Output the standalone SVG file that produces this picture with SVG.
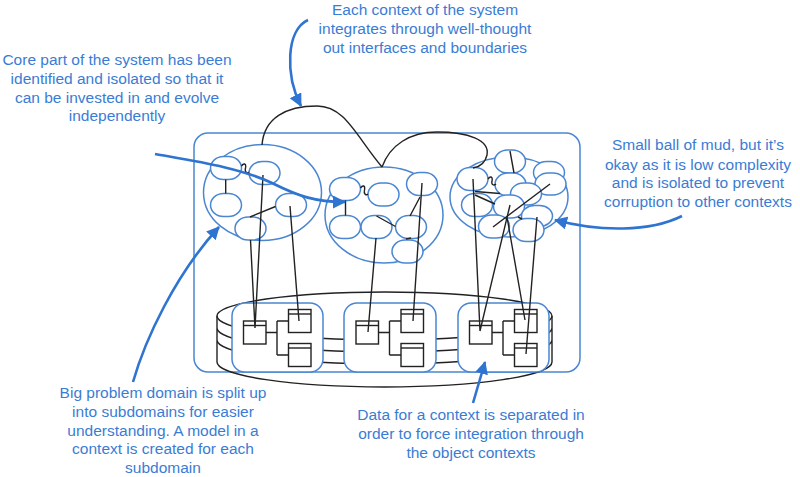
<svg xmlns="http://www.w3.org/2000/svg" width="800" height="477" viewBox="0 0 800 477">
<style>
.b{fill:none;stroke:#4a86d2;stroke-width:1.5}
.o{fill:#fff;stroke:#4a86d2;stroke-width:1.5}
.k{fill:none;stroke:#222;stroke-width:1.4}
.tb{fill:#fff;stroke:#222;stroke-width:1.4}
.a{fill:none;stroke:#2f74d0;stroke-width:2.6}
.t{font-family:'Liberation Sans',Arial,sans-serif;font-size:15.5px;fill:#3a7cd5;text-anchor:middle}
</style>
<defs>
<marker id="ah" markerUnits="userSpaceOnUse" markerWidth="14" markerHeight="14" refX="12" refY="6.5" orient="auto">
<path d="M0,0 L13,6.5 L0,13 z" fill="#2f74d0"/>
</marker>
</defs>
<rect width="800" height="477" fill="#fff"/>

<g id="system-boundary">
<rect class="b" x="194" y="133" width="386" height="239" rx="14"/>
</g>

<g id="database">
<ellipse class="k" cx="384.5" cy="316" rx="167.5" ry="24"/>
<path class="k" d="M217,328 A167.5,24 0 0 0 552,328 M217,340 A167.5,24 0 0 0 552,340 M217,362 A167.5,25 0 0 0 552,362 M217,316 V362 M552,316 V362"/>
</g>

<g id="data-context-1">
<rect class="o" x="232" y="303" width="91" height="69" rx="13"/>
<rect class="tb" x="243.5" y="321" width="22.5" height="23"/><path class="k" d="M243.5,325.5 H266"/>
<rect class="tb" x="288.5" y="309.5" width="22.5" height="23"/><path class="k" d="M288.5,314 H311"/>
<rect class="tb" x="288.5" y="343.5" width="22.5" height="23"/><path class="k" d="M288.5,348 H311"/>
<path class="k" d="M266,332.5 H277 M277,321 V355 M277,321 H288.5 M277,355 H288.5"/>
</g>
<g id="data-context-2">
<rect class="o" x="344" y="303" width="92" height="69" rx="13"/>
<rect class="tb" x="356" y="321" width="22.5" height="23"/><path class="k" d="M356,325.5 H378.5"/>
<rect class="tb" x="401" y="309.5" width="22.5" height="23"/><path class="k" d="M401,314 H423.5"/>
<rect class="tb" x="401" y="343.5" width="22.5" height="23"/><path class="k" d="M401,348 H423.5"/>
<path class="k" d="M378.5,332.5 H389.5 M389.5,321 V355 M389.5,321 H401 M389.5,355 H401"/>
</g>
<g id="data-context-3">
<rect class="o" x="458" y="303" width="91" height="69" rx="13"/>
<rect class="tb" x="469.5" y="321" width="22.5" height="23"/><path class="k" d="M469.5,325.5 H492"/>
<rect class="tb" x="514.5" y="309.5" width="22.5" height="23"/><path class="k" d="M514.5,314 H537"/>
<rect class="tb" x="514.5" y="343.5" width="22.5" height="23"/><path class="k" d="M514.5,348 H537"/>
<path class="k" d="M492,332.5 H503 M503,321 V355 M503,321 H514.5 M503,355 H514.5"/>
</g>

<g id="context-core">
<ellipse class="b" cx="262.5" cy="192.5" rx="59" ry="48"/>
<rect class="o" x="210.5" y="156.5" width="31" height="23" rx="13" ry="11.5"/>
<rect class="o" x="249" y="161.5" width="31" height="23" rx="13" ry="11.5"/>
<rect class="o" x="210.5" y="193.5" width="31" height="23" rx="13" ry="11.5"/>
<rect class="o" x="275.5" y="193.5" width="31" height="23" rx="13" ry="11.5"/>
<rect class="o" x="235" y="217" width="31" height="23" rx="13" ry="11.5"/>
<path class="k" d="M225.7,179.5 V193.5 M241.5,166 C243.5,163 246.5,163 245.5,168 C244.5,172 247,174 249,172 M250,217 L275.5,206.5"/>
</g>

<g id="context-middle">
<ellipse class="b" cx="384" cy="215" rx="59" ry="48"/>
<rect class="o" x="329.5" y="177.5" width="31" height="23" rx="13" ry="11.5"/>
<rect class="o" x="368" y="183" width="31" height="23" rx="13" ry="11.5"/>
<rect class="o" x="406.5" y="172.5" width="31" height="23" rx="13" ry="11.5"/>
<rect class="o" x="329.5" y="215.5" width="31" height="23" rx="13" ry="11.5"/>
<rect class="o" x="361" y="215.5" width="31" height="23" rx="13" ry="11.5"/>
<rect class="o" x="395.5" y="215.5" width="31" height="23" rx="13" ry="11.5"/>
<rect class="o" x="392" y="240" width="31" height="23" rx="13" ry="11.5"/>
<path class="k" d="M345.5,200.5 V215.5 M360.5,188 C362.5,185 365.5,185 364.5,190 C363.5,194 366,196 368,194 M376.5,216 L395.5,226.5 M420,197 L410,216 M406,239 L411,238"/>
</g>

<g id="context-mud">
<ellipse class="b" cx="509" cy="197" rx="59" ry="40"/>
<rect class="o" x="494.5" y="150" width="31" height="23" rx="13" ry="11.5"/>
<rect class="o" x="533.5" y="161.5" width="31" height="22" rx="13" ry="11"/>
<rect class="o" x="535" y="173" width="31" height="22" rx="13" ry="11"/>
<rect class="o" x="457" y="167.5" width="31" height="23" rx="13" ry="11.5"/>
<rect class="o" x="495" y="173" width="31" height="23" rx="13" ry="11.5"/>
<rect class="o" x="510.5" y="183" width="31" height="22" rx="13" ry="11"/>
<rect class="o" x="461.5" y="193.5" width="31" height="23" rx="13" ry="11.5"/>
<rect class="o" x="493.5" y="195" width="31" height="23" rx="13" ry="11.5"/>
<rect class="o" x="521.5" y="205.5" width="31" height="21" rx="13" ry="10.5"/>
<rect class="o" x="478.5" y="215" width="31" height="23" rx="13" ry="11.5"/>
<rect class="o" x="513" y="218.5" width="31" height="23" rx="13" ry="11.5"/>
<path class="k" d="M510,151 L514,173 M488,179 C490,176 493,176 492,181 C491,185 494,186 496,184 M475,191.5 L500,193.5 M475,195 L495,204 M493,227 L550,184 M518,217 L522,219"/>
</g>

<g id="connectors">
<path class="k" d="M262,145 C264,118 286,106 317,106 C345,106 356,136 382,167"/>
<path class="k" d="M382,167 C390,145 410,132 437,132 C468,132 490,140 487,155 C485,164 479,167 473,168"/>
<path class="k" d="M263,175 L255,328 M250.5,240 L255,328 M290,206 L299,321"/>
<path class="k" d="M376,238 L368,332 M422,183 L413,321"/>
<path class="k" d="M473,179 L480,331 M510,205 L480,331 M507,217 L525,320 M537,217 L526,354"/>
</g>

<g id="note-interfaces">
<text class="t" x="425" y="15">Each context of the system</text>
<text class="t" x="425" y="34">integrates through well-thought</text>
<text class="t" x="425" y="53">out interfaces and boundaries</text>
<path class="a" marker-end="url(#ah)" d="M308,20 C286,30 285,75 301,106"/>
</g>

<g id="note-core">
<text class="t" x="117" y="65">Core part of the system has been</text>
<text class="t" x="117" y="84">identified and isolated so that it</text>
<text class="t" x="117" y="103">can be invested in and evolve</text>
<text class="t" x="117" y="121">independently</text>
<path class="a" marker-end="url(#ah)" d="M155,154 C200,162 240,168 272,183 C298,196 315,202 345,202"/>
</g>

<g id="note-mud">
<text class="t" x="698" y="150">Small ball of mud, but it’s</text>
<text class="t" x="698" y="170">okay as it is low complexity</text>
<text class="t" x="698" y="188">and is isolated to prevent</text>
<text class="t" x="698" y="207">corruption to other contexts</text>
<path class="a" marker-end="url(#ah)" d="M682,216 C650,232 600,232 555,220"/>
</g>

<g id="note-subdomains">
<text class="t" x="163" y="398">Big problem domain is split up</text>
<text class="t" x="163" y="417">into subdomains for easier</text>
<text class="t" x="163" y="436">understanding. A model in a</text>
<text class="t" x="163" y="454">context is created for each</text>
<text class="t" x="163" y="473">subdomain</text>
<path class="a" marker-end="url(#ah)" d="M133,382 C145,340 175,275 219,227"/>
</g>

<g id="note-data">
<text class="t" x="471" y="420">Data for a context is separated in</text>
<text class="t" x="471" y="439">order to force integration through</text>
<text class="t" x="471" y="458">the object contexts</text>
<path class="a" marker-end="url(#ah)" d="M473,403 L485,362"/>
</g>
</svg>
